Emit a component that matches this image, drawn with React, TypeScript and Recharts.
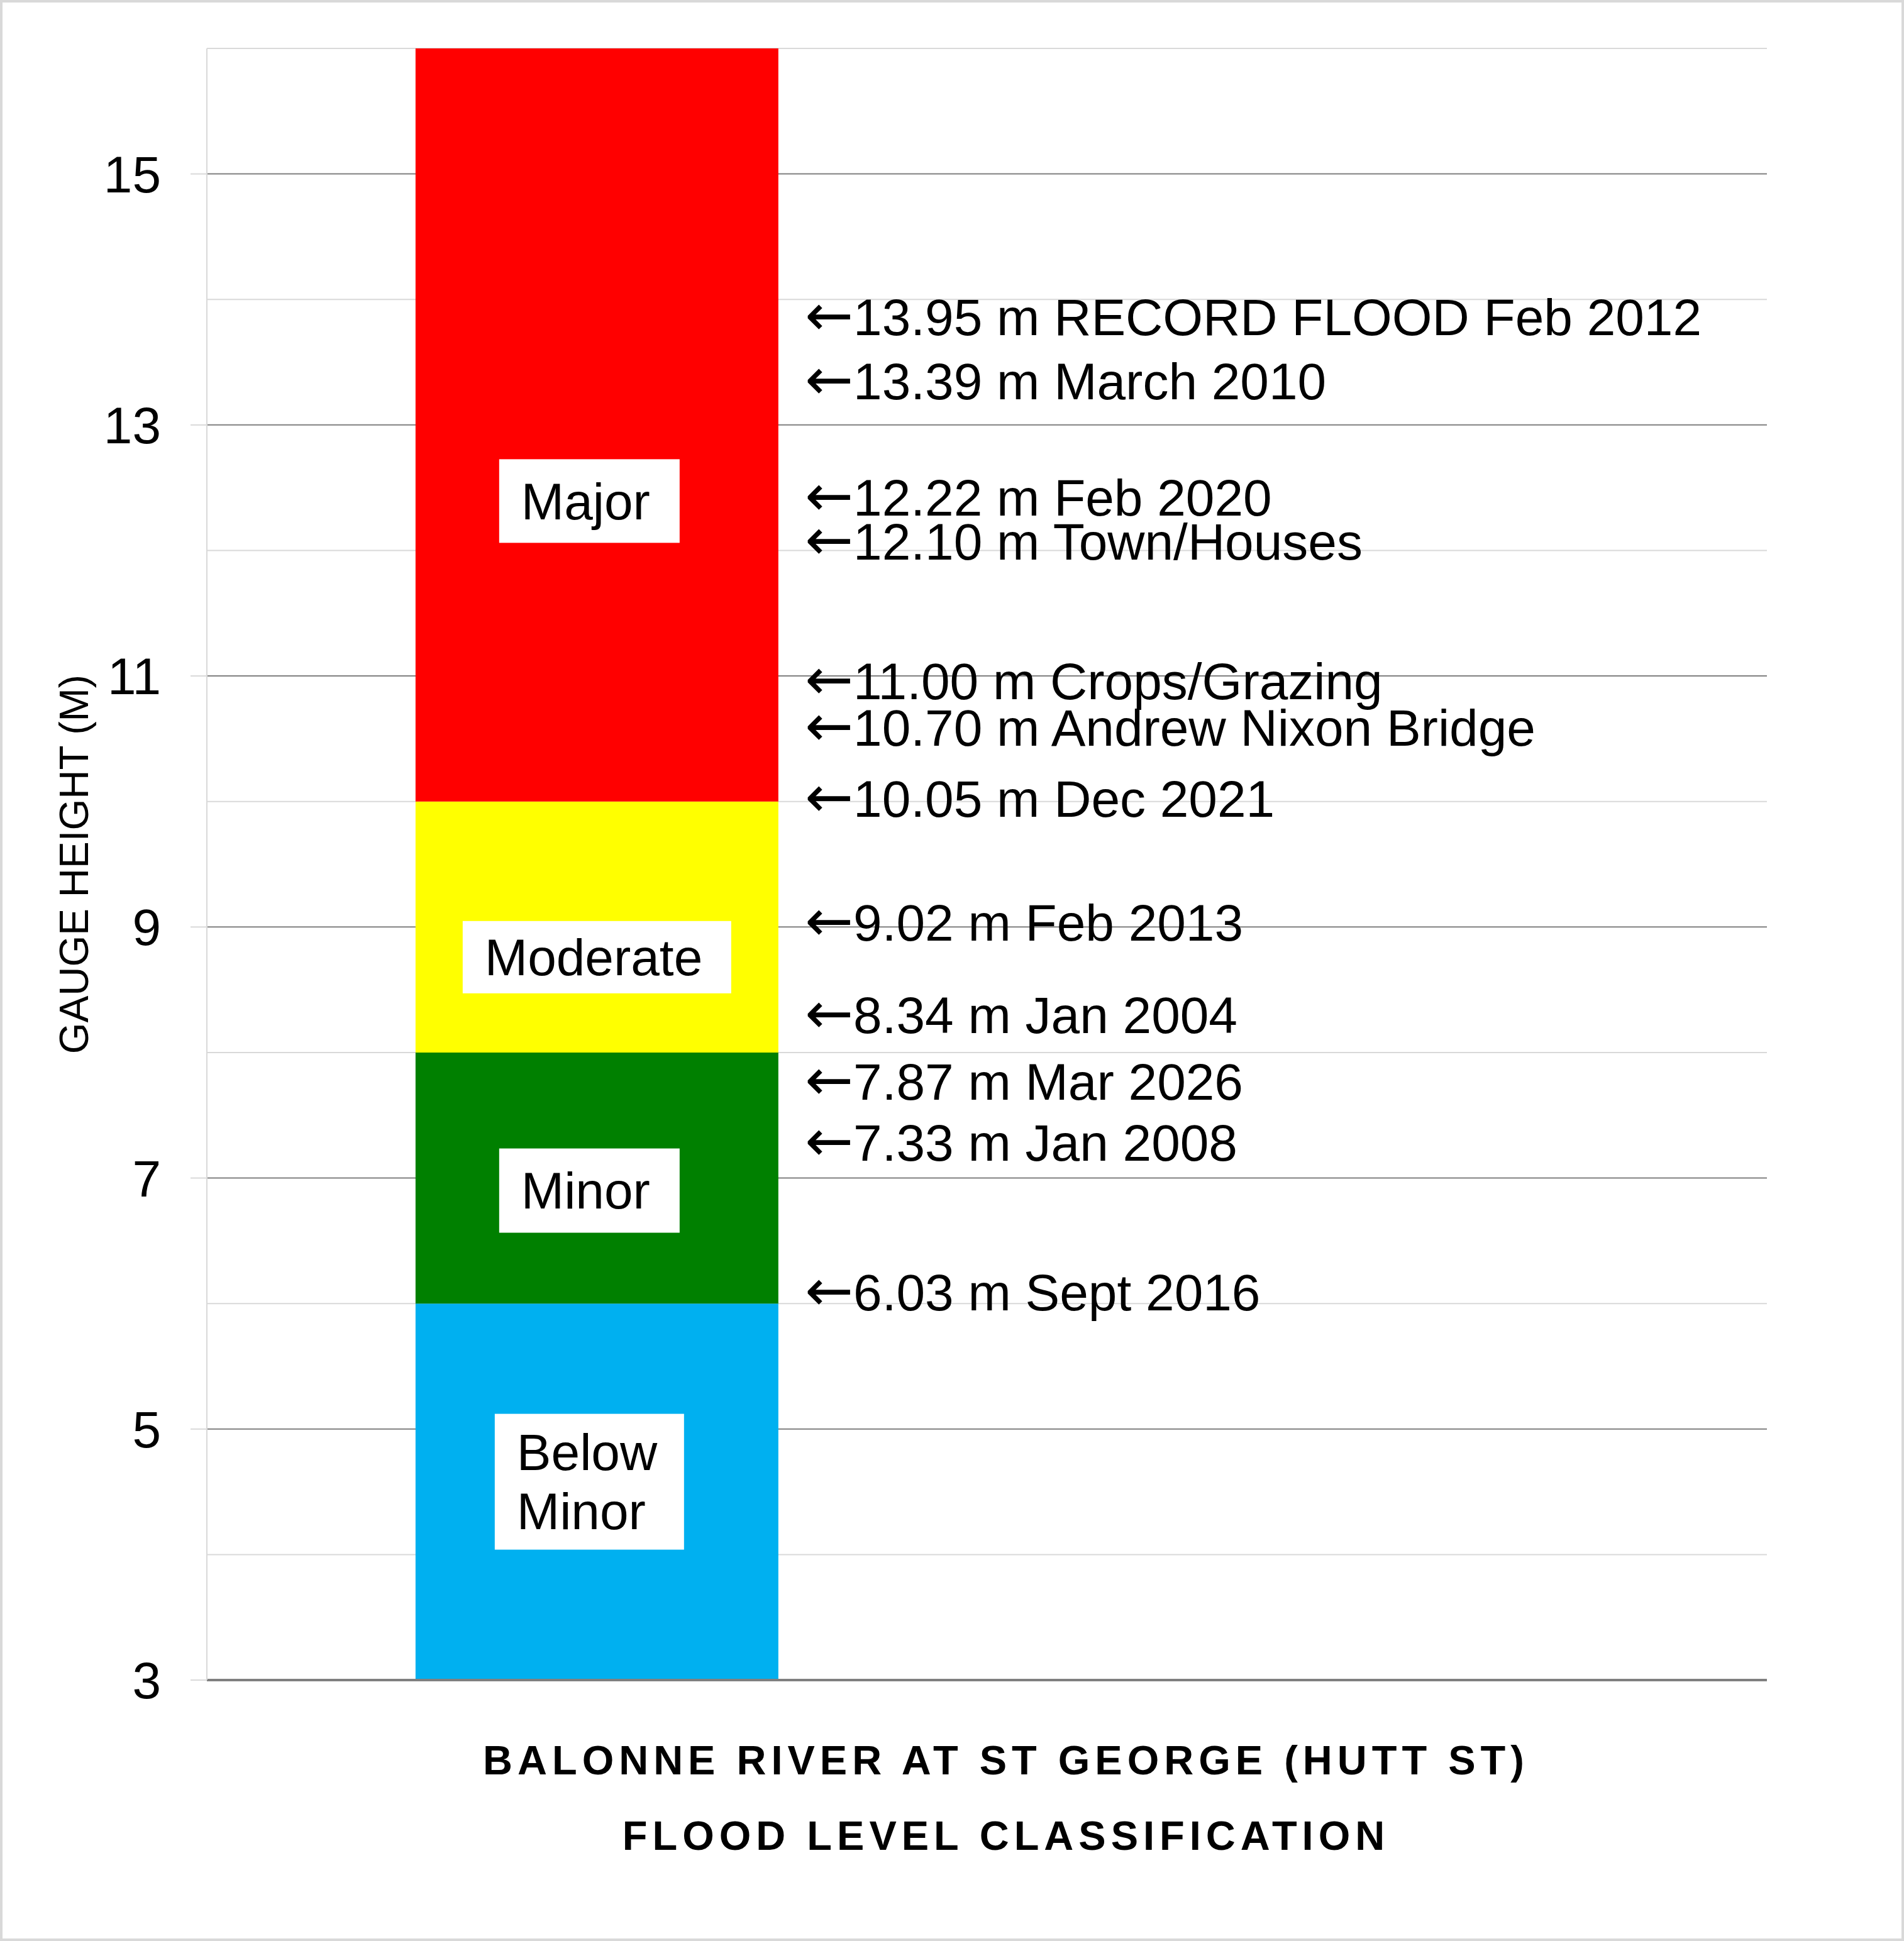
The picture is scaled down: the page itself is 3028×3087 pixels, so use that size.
import React from 'react';
import {
  ComposedChart,
  Bar,
  XAxis,
  YAxis,
  CartesianGrid,
  ReferenceLine,
  LabelList,
} from 'recharts';

// ---------- data ----------
const categories = ['Balonne River at St George (Hutt St)', ''];
const floodClasses = ['Below Minor', 'Minor', 'Moderate', 'Major'];
const classUpperLimits = [6, 8, 10, 16]; // gauge height (m) at top of each class
const gaugeFloor = 3;

const majorTicks = [3, 5, 7, 9, 11, 13, 15];
const minorTicks = [4, 6, 8, 10, 12, 14, 16];

const eventHeights = [13.95, 13.39, 12.22, 12.1, 11.0, 10.7, 10.05, 9.02, 8.34, 7.87, 7.33, 6.03];
const eventDescriptions = [
  'RECORD FLOOD Feb 2012',
  'March 2010',
  'Feb 2020',
  'Town/Houses',
  'Crops/Grazing',
  'Andrew Nixon Bridge',
  'Dec 2021',
  'Feb 2013',
  'Jan 2004',
  'Mar 2026',
  'Jan 2008',
  'Sept 2016',
];

const titleLines = ['BALONNE RIVER AT ST GEORGE (HUTT ST)', 'FLOOD LEVEL CLASSIFICATION'];
const yAxisTitle = 'GAUGE HEIGHT (M)';

// ---------- build chart rows ----------
const rows = categories.map((name, i) => {
  const row: Record<string, any> = { name };
  if (i === 0) {
    row.base = gaugeFloor;
    let prev = gaugeFloor;
    floodClasses.forEach((c, k) => {
      row[c] = classUpperLimits[k] - prev;
      prev = classUpperLimits[k];
    });
  }
  return row;
});

// ---------- styles ----------
const FONT = '"Liberation Sans", Arial, Helvetica, sans-serif';
const ARROW_FONT = '"DejaVu Sans", sans-serif';
const W = 3028;
const H = 3087;
const classColors: Record<string, string> = {
  'Below Minor': '#00B0F0',
  Minor: '#008000',
  Moderate: '#FFFF00',
  Major: '#FF0000',
};
const labelBox: Record<string, { w: number; h: number; dx: number; dy: number; lines: string[] }> = {
  'Below Minor': { w: 301, h: 216, dx: -12, dy: -16, lines: ['Below', 'Minor'] },
  Minor: { w: 287, h: 134, dx: -12, dy: 20, lines: ['Minor'] },
  Moderate: { w: 427, h: 115, dx: 0, dy: 48, lines: ['Moderate'] },
  Major: { w: 287, h: 133, dx: -12, dy: 121, lines: ['Major'] },
};
// small vertical nudges (px) for annotation labels, keeping them from colliding
const eventLabelNudge = [18, 8, -40, 6, 8, 22, 6, -3, 8, 20, 10, -12];

const makeClassLabel = (cls: string) => (props: any) => {
  const { x, y, width, height } = props;
  if (x == null || width == null || !height) return null;
  const s = labelBox[cls];
  const cx = Number(x) + Number(width) / 2 + s.dx;
  const cy = Number(y) + Number(height) / 2 + s.dy;
  const left = cx - s.w / 2;
  const top = cy - s.h / 2;
  const lineGap = 94;
  const n = s.lines.length;
  return (
    <g>
      <rect x={left} y={top} width={s.w} height={s.h} fill="#FFFFFF" />
      {s.lines.map((ln, i) => (
        <text
          key={i}
          x={left + 35}
          y={cy + (i - (n - 1) / 2) * lineGap}
          dy="0.35em"
          fontSize={82}
          fontFamily={FONT}
          fill="#000000"
          textAnchor="start"
        >
          {ln}
        </text>
      ))}
    </g>
  );
};

const makeEventLabel = (value: number, desc: string, nudge: number) => (props: any) => {
  const vb = props.viewBox || {};
  const x = (vb.x ?? 0) + 951;
  const y = (vb.y ?? 0) + nudge;
  return (
    <text x={x} y={y} dy="0.35em" fontSize={82} fontFamily={FONT} fill="#000000" textAnchor="start">
      <tspan fontFamily={ARROW_FONT} fontSize={92}>{'\u2190'}</tspan>
      <tspan>{`${value.toFixed(2)} m ${desc}`}</tspan>
    </text>
  );
};

const titleLabel = (props: any) => {
  const vb = props.viewBox || {};
  const y0 = (vb.y ?? 0) + 127;
  return (
    <g>
      {titleLines.map((t, i) => (
        <text
          key={i}
          x={1600}
          y={y0 + i * 120}
          dy="0.35em"
          fontSize={65}
          fontWeight="bold"
          fontFamily={FONT}
          fill="#000000"
          textAnchor="middle"
          letterSpacing={8}
        >
          {t}
        </text>
      ))}
    </g>
  );
};

const yTitleLabel = (props: any) => {
  const vb = props.viewBox || {};
  const cy = (vb.y ?? 0) + (vb.height ?? 0) / 2;
  const cx = 118;
  return (
    <text
      x={cx}
      y={cy}
      dy="0.35em"
      fontSize={64}
      fontFamily={FONT}
      fill="#000000"
      textAnchor="middle"
      transform={`rotate(-90, ${cx}, ${cy})`}
    >
      {yAxisTitle}
    </text>
  );
};

export default function App() {
  return (
    <div
      style={{
        position: 'absolute',
        left: 0,
        top: 0,
        width: W,
        height: H,
        background: '#FFFFFF',
        fontFamily: FONT,
      }}
    >
      <ComposedChart
        width={W}
        height={H}
        data={rows}
        margin={{ top: 77, right: 218, bottom: 414, left: 0 }}
        barCategoryGap="26.75%"
        style={{ fontFamily: FONT }}
      >
        <CartesianGrid vertical={false} horizontalValues={minorTicks} stroke="#D9D9D9" strokeWidth={2} />
        <CartesianGrid vertical={false} horizontalValues={majorTicks} stroke="#808080" strokeWidth={2} />
        <XAxis
          dataKey="name"
          type="category"
          height={1}
          tick={false}
          tickLine={false}
          axisLine={{ stroke: '#808080', strokeWidth: 4 }}
          label={titleLabel}
        />
        <YAxis
          type="number"
          domain={[gaugeFloor, 16]}
          allowDataOverflow
          ticks={majorTicks}
          interval={0}
          width={329}
          tickSize={26}
          tickMargin={47}
          tick={{ fontSize: 82, fill: '#000000', fontFamily: FONT }}
          tickLine={{ stroke: '#D9D9D9', strokeWidth: 2 }}
          axisLine={{ stroke: '#D9D9D9', strokeWidth: 2 }}
          label={yTitleLabel}
        />
        <Bar dataKey="base" stackId="a" fill="transparent" isAnimationActive={false} />
        {floodClasses.map((cls) => (
          <Bar key={cls} dataKey={cls} stackId="a" fill={classColors[cls]} isAnimationActive={false}>
            <LabelList dataKey={cls} content={makeClassLabel(cls)} />
          </Bar>
        ))}
        {eventHeights.map((v, i) => (
          <ReferenceLine
            key={i}
            y={v}
            stroke="none"
            strokeOpacity={0}
            label={makeEventLabel(v, eventDescriptions[i], eventLabelNudge[i])}
          />
        ))}
      </ComposedChart>
      <div
        style={{
          position: 'absolute',
          inset: 0,
          border: '4px solid #D9D9D9',
          pointerEvents: 'none',
        }}
      />
    </div>
  );
}
